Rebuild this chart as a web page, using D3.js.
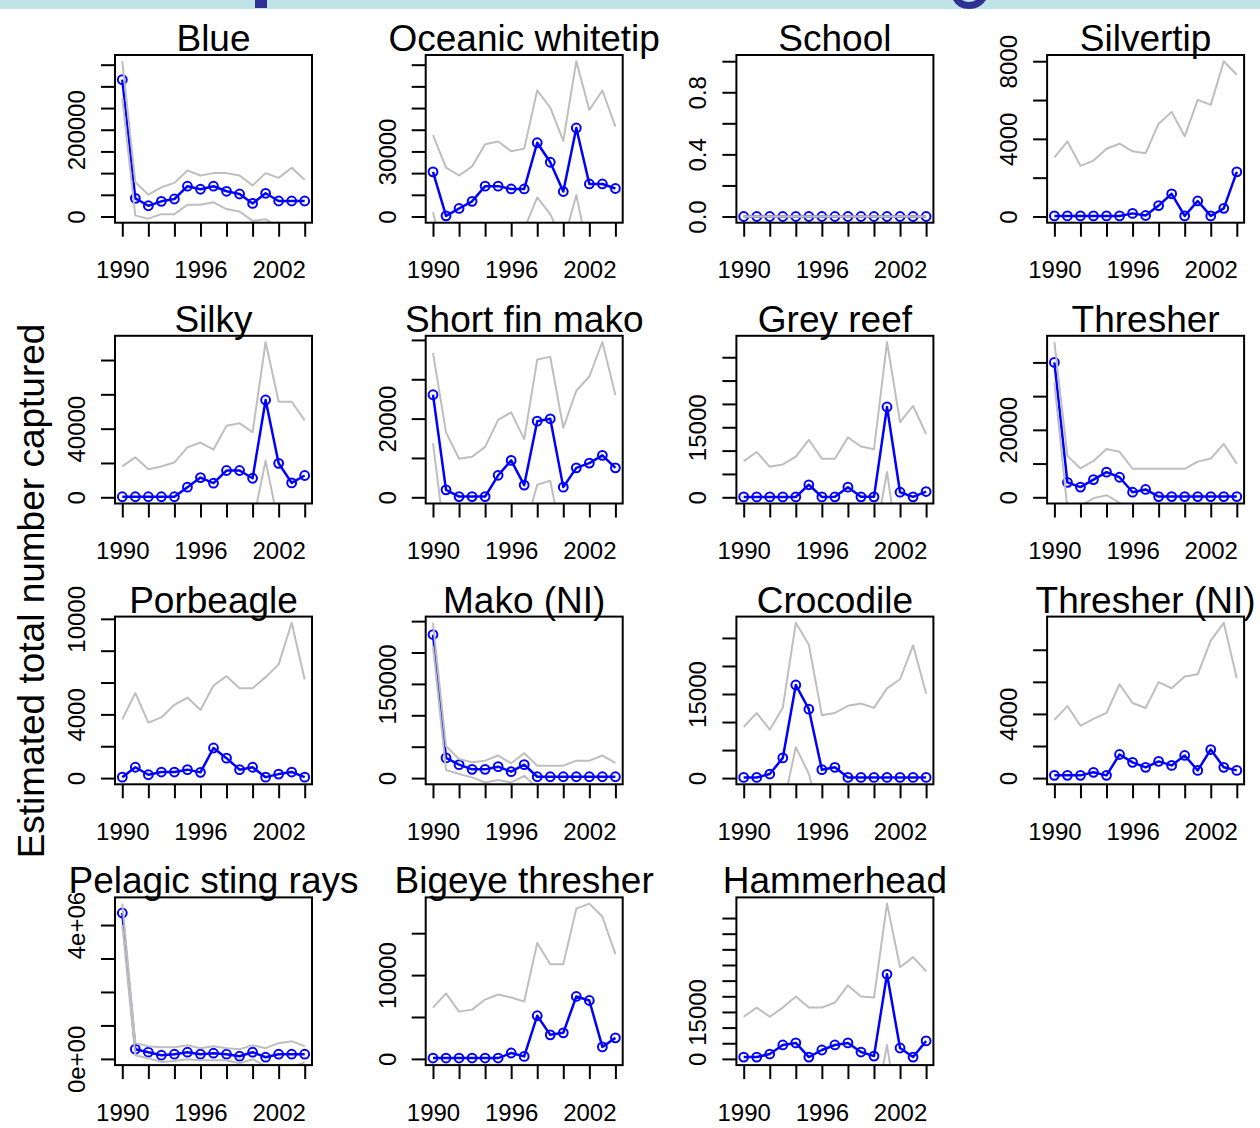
<!DOCTYPE html>
<html>
<head>
<meta charset="utf-8">
<script src="https://cdn.jsdelivr.net/npm/d3@7"></script>
<style>
  html, body { margin: 0; padding: 0; background: #ffffff; }
  svg { display: block; }
  text { font-family: "Liberation Sans", Arial, Helvetica, sans-serif; fill: #000; }
</style>
</head>
<body>
<svg id="chart" width="1260" height="1128"></svg>
<script>
// ---- data ---------------------------------------------------------------
const years = [1990, 1991, 1992, 1993, 1994, 1995, 1996, 1997, 1998, 1999, 2000, 2001, 2002, 2003, 2004];
const xTicks = [1990, 1992, 1994, 1996, 1998, 2000, 2002, 2004];
const xTickLabels = ["1990", "", "", "1996", "", "", "2002", ""];

const species = ["Blue", "Oceanic whitetip", "School", "Silvertip",
                 "Silky", "Short fin mako", "Grey reef", "Thresher",
                 "Porbeagle", "Mako (NI)", "Crocodile", "Thresher (NI)",
                 "Pelagic sting rays", "Bigeye thresher", "Hammerhead"];

// Blue
const blueEst = [315500, 41900, 24800, 34900, 40300, 69800, 62800, 69800, 58100, 51900, 30200, 53500, 35700, 35700, 35700];
const blueUpr = [358000, 79100, 50400, 67400, 77500, 106200, 94600, 100000, 100000, 94600, 71300, 100000, 89100, 112400, 84500];
const blueLwr = [273000, 2000, -5000, 5400, 5400, 27100, 27100, 32600, 17100, 11600, -10100, -6200, -25000, -38000, -12000];
const blueTicks = [0, 50000, 100000, 150000, 200000, 250000, 300000, 350000];
const blueTickLabels = ["0", "", "", "", "200000", "", "", ""];

// Oceanic whitetip
const oceanicEst = [20600, 300, 3700, 7000, 14000, 14000, 12700, 12700, 34000, 25000, 11500, 40800, 15000, 15000, 12900];
const oceanicUpr = [37500, 22500, 18900, 23100, 33300, 34600, 30100, 31300, 58100, 50200, 34900, 71600, 49100, 58100, 41400];
const oceanicLwr = [1900, -21900, -11500, -9100, -5300, -6600, -4700, -5900, 8800, 1100, -11900, 9900, -19100, -28100, -15600];
const oceanicTicks = [0, 10000, 20000, 30000, 40000, 50000, 60000, 70000];
const oceanicTickLabels = ["0", "", "", "30000", "", "", "", ""];

// School
const schoolEst = [0, 0, 0, 0, 0, 0, 0, 0, 0, 0, 0, 0, 0, 0, 0];
const schoolUpr = [0, 0, 0, 0, 0, 0, 0, 0, 0, 0, 0, 0, 0, 0, 0];
const schoolLwr = [0, 0, 0, 0, 0, 0, 0, 0, 0, 0, 0, 0, 0, 0, 0];
const schoolTicks = [0, 0.2, 0.4, 0.6, 0.8, 1.0];
const schoolTickLabels = ["0.0", "", "0.4", "", "0.8", ""];

// Silvertip
const silvertipEst = [30, 30, 30, 30, 30, 30, 160, 50, 560, 1170, 30, 800, 30, 420, 2300];
const silvertipUpr = [3050, 3870, 2610, 2880, 3490, 3750, 3360, 3260, 4780, 5390, 4130, 6010, 5750, 8000, 7300];
const silvertipLwr = [-2990, -3810, -2550, -2820, -3430, -3690, -3040, -3160, -3660, -3050, -4070, -4410, -5690, -7160, -2700];
const silvertipTicks = [0, 2000, 4000, 6000, 8000];
const silvertipTickLabels = ["0", "", "4000", "", "8000"];

// Silky
const silkyEst = [300, 300, 300, 300, 300, 5900, 11500, 8200, 15600, 15600, 11100, 56700, 19800, 8400, 12700];
const silkyUpr = [18000, 23300, 16400, 18000, 20300, 29100, 31900, 27800, 41700, 43200, 37900, 90500, 55700, 55700, 44800];
const silkyLwr = [-17400, -22700, -15800, -17400, -19700, -17300, -8900, -11400, -10500, -12000, -15700, 21300, -16100, -38900, -19400];
const silkyTicks = [0, 20000, 40000, 60000, 80000];
const silkyTickLabels = ["0", "", "40000", "", ""];

// Short fin mako
const shortfinEst = [26060, 1890, 170, 170, 170, 5590, 9370, 3100, 19350, 19950, 2580, 7480, 8690, 10660, 7480];
const shortfinUpr = [36720, 16510, 9800, 10320, 12810, 19690, 21590, 14790, 35000, 35690, 17630, 27090, 30700, 39470, 25970];
const shortfinLwr = [13760, -12730, -9460, -9980, -12470, -8510, -2850, -8590, 3200, 4210, -12470, -12130, -13320, -18150, -11010];
const shortfinTicks = [0, 10000, 20000, 30000, 40000];
const shortfinTickLabels = ["0", "", "20000", "", ""];

// Grey reef
const greyreefEst = [80, 80, 80, 80, 80, 2680, 80, 100, 2170, 100, 100, 19350, 1090, 100, 1230];
const greyreefUpr = [7750, 9710, 6520, 7030, 8700, 12320, 8260, 8260, 12830, 10870, 10290, 33260, 16090, 19560, 13550];
const greyreefLwr = [-7590, -9550, -6360, -6870, -8540, -6960, -8100, -8060, -8490, -10670, -10090, 5440, -13910, -19360, -11090];
const greyreefTicks = [0, 5000, 10000, 15000, 20000, 25000, 30000];
const greyreefTickLabels = ["0", "", "", "15000", "", "", ""];

// Thresher
const thresherEst = [40000, 4430, 3020, 5240, 7460, 5940, 1510, 2320, 200, 200, 200, 200, 200, 200, 200];
const thresherUpr = [46050, 12290, 8560, 10780, 14310, 13500, 8460, 8460, 8460, 8460, 8460, 10580, 11490, 15820, 9980];
const thresherLwr = [33950, -3430, -2520, -300, 610, -1620, -5440, -3820, -8060, -8060, -8060, -10180, -11090, -15420, -9580];
const thresherTicks = [0, 10000, 20000, 30000, 40000];
const thresherTickLabels = ["0", "", "20000", "", ""];

// Porbeagle
const porbeagleEst = [60, 680, 210, 380, 380, 530, 360, 1890, 1250, 530, 680, 60, 250, 380, 60];
const porbeagleUpr = [3690, 5340, 3480, 3810, 4600, 5060, 4280, 5810, 6400, 5640, 5640, 6340, 7140, 9750, 6190];
const porbeagleLwr = [-3570, -3980, -3060, -3050, -3840, -4000, -3560, -2030, -3900, -4580, -4280, -6220, -6640, -8990, -6070];
const porbeagleTicks = [0, 2000, 4000, 6000, 8000, 10000];
const porbeagleTickLabels = ["0", "", "4000", "", "", "10000"];

// Mako (NI)
const makoNIEst = [228600, 32100, 21400, 13900, 13900, 18200, 10200, 21400, 2100, 2100, 2100, 2100, 2100, 2100, 2100];
const makoNIUpr = [247300, 50900, 30500, 25200, 27800, 35900, 23600, 39600, 19800, 19800, 19800, 27800, 27800, 35900, 24100];
const makoNILwr = [210000, 12800, 6400, 1100, -7000, -3200, -7000, 3700, -15600, -15600, -15600, -23600, -23600, -31700, -19900];
const makoNITicks = [0, 50000, 100000, 150000, 200000, 250000];
const makoNITickLabels = ["0", "", "", "150000", "", ""];

// Crocodile
const crocodileEst = [120, 120, 720, 3600, 16610, 12290, 1500, 1920, 120, 120, 120, 120, 120, 120, 120];
const crocodileUpr = [9110, 11630, 8630, 12530, 27700, 23800, 11210, 11630, 12890, 13310, 12530, 16010, 17630, 23680, 15110];
const crocodileLwr = [-8870, -11390, -7190, -5330, 5520, 780, -8210, -7790, -12650, -13070, -12290, -15770, -17390, -23440, -14870];
const crocodileTicks = [0, 5000, 10000, 15000, 20000, 25000];
const crocodileTickLabels = ["0", "", "", "15000", "", ""];

// Thresher (NI)
const thresherNIEst = [170, 170, 170, 360, 170, 1470, 980, 670, 1040, 790, 1410, 480, 1780, 670, 480];
const thresherNIUpr = [3630, 4490, 3260, 3690, 4060, 5850, 4680, 4370, 5980, 5600, 6340, 6470, 8570, 9680, 6220];
const thresherNILwr = [-3290, -4150, -2920, -2970, -3720, -2910, -2720, -3030, -3900, -4020, -3520, -5510, -5010, -8340, -5260];
const thresherNITicks = [0, 2000, 4000, 6000, 8000];
const thresherNITickLabels = ["0", "", "4000", "", ""];

// Pelagic sting rays
const stingrayEst = [4360000, 290000, 200000, 110000, 140000, 200000, 140000, 170000, 140000, 80000, 200000, 50000, 140000, 140000, 140000];
const stingrayUpr = [4640000, 470000, 380000, 350000, 350000, 410000, 320000, 380000, 320000, 290000, 410000, 320000, 470000, 530000, 380000];
const stingrayLwr = [4000000, 110000, 20000, -90000, -60000, -10000, -40000, -40000, -40000, -130000, -10000, -220000, -190000, -250000, -100000];
const stingrayTicks = [0, 1000000, 2000000, 3000000, 4000000];
const stingrayTickLabels = ["0e+00", "", "", "", "4e+06"];

// Bigeye thresher
const bigeyeEst = [100, 100, 100, 100, 100, 100, 700, 300, 5150, 2870, 3110, 7450, 6970, 1430, 2510];
const bigeyeUpr = [6120, 7810, 5640, 5880, 7080, 7690, 7330, 6840, 13830, 11300, 11300, 17930, 18530, 16960, 12500];
const bigeyeLwr = [-5920, -7610, -5440, -5680, -6880, -7490, -5930, -6240, -3530, -5560, -5080, -3030, -4590, -14100, -7480];
const bigeyeTicks = [0, 5000, 10000, 15000];
const bigeyeTickLabels = ["0", "", "10000", ""];

// Hammerhead
const hammerEst = [580, 580, 1550, 4450, 5100, 580, 2840, 4450, 5100, 2190, 900, 27030, 3480, 580, 5740];
const hammerUpr = [13480, 16390, 13480, 16390, 19940, 16390, 16390, 18000, 23480, 19940, 19610, 49610, 29290, 32520, 28000];
const hammerLwr = [-12320, -15230, -10380, -7490, -9740, -15230, -10710, -9100, -13280, -15560, -17810, 4450, -22330, -31360, -16520];
const hammerTicks = [0, 5000, 10000, 15000, 20000, 25000, 30000, 35000, 40000, 45000];
const hammerTickLabels = ["0", "", "", "15000", "", "", "", "", "", ""];

// assemble panels in display order
const panels = [
  { est: blueEst, upr: blueUpr, lwr: blueLwr, ticks: blueTicks, labels: blueTickLabels },
  { est: oceanicEst, upr: oceanicUpr, lwr: oceanicLwr, ticks: oceanicTicks, labels: oceanicTickLabels },
  { est: schoolEst, upr: schoolUpr, lwr: schoolLwr, ticks: schoolTicks, labels: schoolTickLabels },
  { est: silvertipEst, upr: silvertipUpr, lwr: silvertipLwr, ticks: silvertipTicks, labels: silvertipTickLabels },
  { est: silkyEst, upr: silkyUpr, lwr: silkyLwr, ticks: silkyTicks, labels: silkyTickLabels },
  { est: shortfinEst, upr: shortfinUpr, lwr: shortfinLwr, ticks: shortfinTicks, labels: shortfinTickLabels },
  { est: greyreefEst, upr: greyreefUpr, lwr: greyreefLwr, ticks: greyreefTicks, labels: greyreefTickLabels },
  { est: thresherEst, upr: thresherUpr, lwr: thresherLwr, ticks: thresherTicks, labels: thresherTickLabels },
  { est: porbeagleEst, upr: porbeagleUpr, lwr: porbeagleLwr, ticks: porbeagleTicks, labels: porbeagleTickLabels },
  { est: makoNIEst, upr: makoNIUpr, lwr: makoNILwr, ticks: makoNITicks, labels: makoNITickLabels },
  { est: crocodileEst, upr: crocodileUpr, lwr: crocodileLwr, ticks: crocodileTicks, labels: crocodileTickLabels },
  { est: thresherNIEst, upr: thresherNIUpr, lwr: thresherNILwr, ticks: thresherNITicks, labels: thresherNITickLabels },
  { est: stingrayEst, upr: stingrayUpr, lwr: stingrayLwr, ticks: stingrayTicks, labels: stingrayTickLabels },
  { est: bigeyeEst, upr: bigeyeUpr, lwr: bigeyeLwr, ticks: bigeyeTicks, labels: bigeyeTickLabels },
  { est: hammerEst, upr: hammerUpr, lwr: hammerLwr, ticks: hammerTicks, labels: hammerTickLabels }
].map((p, i) => Object.assign({ name: species[i] }, p));

// ---- layout -------------------------------------------------------------
const svg = d3.select("#chart");
const W = 1260, H = 1128;
const boxW = 197, boxH = 167.7;
const left0 = 115, top0 = 55, colStep = 310.7, rowStep = 280.8;
const titleSize = 37, tickSize = 24;
const estColor = "#0000ff", ciColor = "#bebebe";

svg.append("rect").attr("width", W).attr("height", H).attr("fill", "#ffffff");

// header strip of the slide, with the lower tips of its heading glyphs
const header = svg.append("g");
header.append("rect").attr("x", 0).attr("y", 0).attr("width", W).attr("height", 9).attr("fill", "#bfe3e6");
header.append("rect").attr("x", 255).attr("y", 0).attr("width", 12).attr("height", 8).attr("fill", "#2e3192");
header.append("path")
  .attr("d", "M953,0 L962,0 Q969,4 976,0 L986,0 Q980,9 969,9 Q958,9 953,0 Z")
  .attr("fill", "#2e3192");

const defs = svg.append("defs");

panels.forEach((p, i) => {
  const col = i % 4, row = Math.floor(i / 4);
  const bx = left0 + col * colStep, by = top0 + row * rowStep;

  const xPad = (years[years.length - 1] - years[0]) * 0.04;
  const x = d3.scaleLinear()
    .domain([years[0] - xPad, years[years.length - 1] + xPad])
    .range([bx, bx + boxW]);

  const ymax = d3.max(p.upr.concat(p.est)) || 1;
  const yPad = ymax * 0.04;
  const y = d3.scaleLinear().domain([-yPad, ymax + yPad]).range([by + boxH, by]);

  const g = svg.append("g").attr("class", "panel");

  const clipId = "clip" + i;
  defs.append("clipPath").attr("id", clipId)
    .append("rect").attr("x", bx).attr("y", by).attr("width", boxW).attr("height", boxH);

  const plot = g.append("g").attr("clip-path", `url(#${clipId})`);
  const line = d3.line().x((d, k) => x(years[k])).y(d => y(d));

  // estimate: line with open circles
  plot.append("path").datum(p.est)
    .attr("d", line).attr("fill", "none")
    .attr("stroke", estColor).attr("stroke-width", 2.5).attr("stroke-linejoin", "round");
  plot.selectAll("circle.pt").data(p.est).enter().append("circle")
    .attr("class", "pt")
    .attr("cx", (d, k) => x(years[k])).attr("cy", d => y(d)).attr("r", 4.4)
    .attr("fill", "none").attr("stroke", estColor).attr("stroke-width", 2);

  // confidence bounds
  [p.upr, p.lwr].forEach(series => {
    plot.append("path").datum(series)
      .attr("d", line).attr("fill", "none")
      .attr("stroke", ciColor).attr("stroke-width", 2).attr("stroke-linejoin", "round");
  });

  // frame
  g.append("rect").attr("x", bx).attr("y", by).attr("width", boxW).attr("height", boxH)
    .attr("fill", "none").attr("stroke", "#000").attr("stroke-width", 2);

  // x axis
  const xAxis = g.append("g").attr("transform", `translate(0,${by + boxH})`)
    .call(d3.axisBottom(x).tickValues(xTicks).tickSize(14)
      .tickFormat((d, k) => xTickLabels[k]));
  xAxis.select(".domain").remove();
  xAxis.selectAll(".tick line").attr("stroke", "#000").attr("stroke-width", 2);
  xAxis.selectAll(".tick text")
    .attr("y", 55.5).attr("dy", null)
    .attr("font-size", tickSize).attr("fill", "#000")
    .style("font-family", '"Liberation Sans", Arial, sans-serif');

  // y axis (labels parallel to the axis)
  const yAxis = g.append("g").attr("transform", `translate(${bx},0)`)
    .call(d3.axisLeft(y).tickValues(p.ticks).tickSize(14)
      .tickFormat((d, k) => p.labels[k]));
  yAxis.select(".domain").remove();
  yAxis.selectAll(".tick line").attr("stroke", "#000").attr("stroke-width", 2);
  yAxis.selectAll(".tick text")
    .attr("x", null).attr("dy", null)
    .attr("transform", "translate(-30,0) rotate(-90)")
    .attr("text-anchor", "middle")
    .attr("font-size", tickSize).attr("fill", "#000")
    .style("font-family", '"Liberation Sans", Arial, sans-serif');

  // panel title
  g.append("text")
    .attr("x", bx + boxW / 2).attr("y", by - 4)
    .attr("text-anchor", "middle")
    .attr("font-size", titleSize)
    .text(p.name);
});

// shared y-axis title
svg.append("text")
  .attr("transform", "translate(44,591) rotate(-90)")
  .attr("text-anchor", "middle")
  .attr("font-size", 37)
  .text("Estimated total number captured");
</script>
</body>
</html>
